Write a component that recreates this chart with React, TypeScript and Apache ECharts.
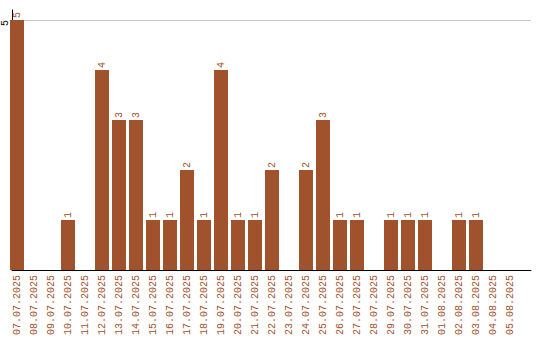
import React, { useEffect, useRef } from "react";
import * as echarts from "echarts";

const categories = [
  "07.07.2025", "08.07.2025", "09.07.2025", "10.07.2025", "11.07.2025",
  "12.07.2025", "13.07.2025", "14.07.2025", "15.07.2025", "16.07.2025",
  "17.07.2025", "18.07.2025", "19.07.2025", "20.07.2025", "21.07.2025",
  "22.07.2025", "23.07.2025", "24.07.2025", "25.07.2025", "26.07.2025",
  "27.07.2025", "28.07.2025", "29.07.2025", "30.07.2025", "31.07.2025",
  "01.08.2025", "02.08.2025", "03.08.2025", "04.08.2025", "05.08.2025",
];
const values = [
  5, 0, 0, 1, 0, 4, 3, 3, 1, 1, 2, 1, 4, 1, 1, 2, 0, 2, 3, 1, 1, 0, 1, 1, 1, 0, 1, 1, 0, 0,
];
const yMax = 5.2;
const yInterval = 5;

const BAR = "#A0522D";
const FONT = "'Liberation Mono', monospace";

export default function App() {
  const ref = useRef<HTMLDivElement>(null);
  useEffect(() => {
    if (!ref.current) return;
    const chart = echarts.init(ref.current, undefined, { renderer: "svg" });
    chart.setOption({
      animation: false,
      grid: [
        { left: 10, right: 9, top: 10, bottom: 70 },
        { left: 8.5, right: 21.5, top: 10, bottom: 70 },
      ],
      xAxis: [
        {
          gridIndex: 0,
          type: "value",
          min: 0,
          max: 1,
          axisLine: { show: true, onZero: false, lineStyle: { color: "#000", width: 1 } },
          axisTick: { show: false },
          axisLabel: { show: false },
          splitLine: { show: false },
          z: 5,
        },
        {
          gridIndex: 1,
          type: "category",
          data: categories,
          axisLine: { show: false },
          axisTick: { show: false },
          axisLabel: {
            rotate: 90,
            margin: 5,
            interval: 0,
            color: BAR,
            fontFamily: FONT,
            fontSize: 10,
          },
        },
      ],
      yAxis: [
        {
          gridIndex: 0,
          type: "value",
          min: 0,
          max: yMax,
          interval: yInterval,
          axisLine: { show: true, lineStyle: { color: "#000", width: 1 } },
          axisTick: { show: false },
          axisLabel: {
            rotate: 90,
            margin: 2,
            align: "right",
            verticalAlign: "bottom",
            showMinLabel: false,
            showMaxLabel: false,
            color: "#000",
            fontFamily: FONT,
            fontSize: 10,
          },
          splitLine: {
            show: true,
            showMinLine: false,
            showMaxLine: false,
            lineStyle: { color: "#c8c8c8", width: 1 },
          },
        },
        {
          gridIndex: 1,
          type: "value",
          min: 0,
          max: yMax,
          show: false,
          splitLine: { show: false },
        },
      ],
      series: [
        {
          type: "bar",
          xAxisIndex: 1,
          yAxisIndex: 1,
          data: values,
          barWidth: 14,
          itemStyle: { color: BAR },
          label: {
            show: true,
            position: "top",
            distance: 2,
            rotate: 90,
            align: "left",
            verticalAlign: "middle",
            color: BAR,
            fontFamily: FONT,
            fontSize: 10,
            formatter: (p: any) => (p.value ? String(p.value) : ""),
          },
        },
      ],
    });
    return () => chart.dispose();
  }, []);
  return <div ref={ref} style={{ width: 540, height: 340, position: "absolute", left: 0, top: 0 }} />;
}
